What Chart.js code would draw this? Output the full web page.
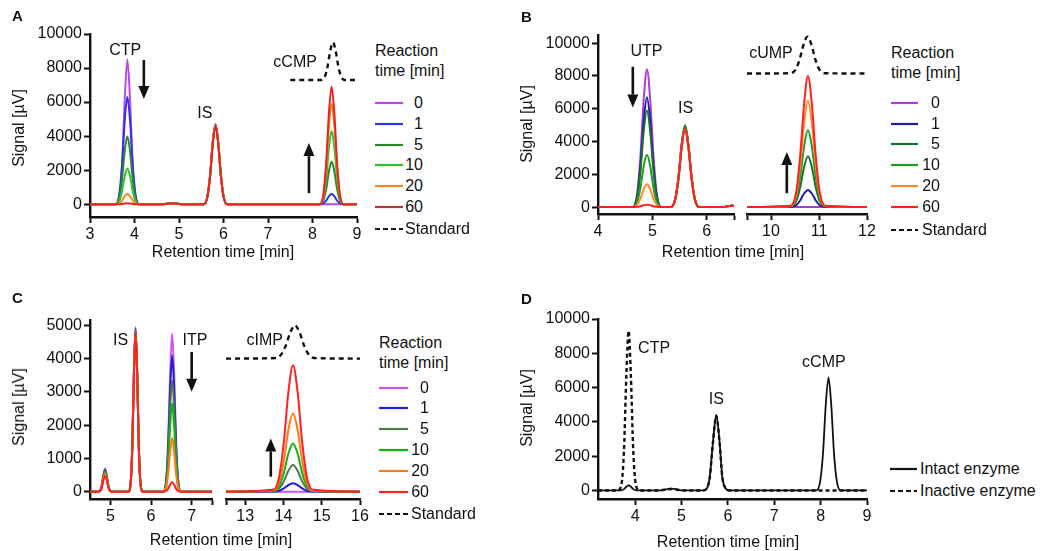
<!DOCTYPE html>
<html lang="en">
<head>
<meta charset="UTF-8">
<title>Nucleotide cyclase chromatograms</title>
<script src="https://cdn.jsdelivr.net/npm/chart.js"></script>
<style>
  body { margin: 0; background: #fff; }
  #fig { position: relative; width: 1050px; height: 551px; overflow: hidden;
         font-family: "Liberation Sans", Arial, sans-serif; color: #111; }
  #fig canvas { position: absolute; }
  .t { position: absolute; font-size: 16px; line-height: 1; white-space: nowrap; }
  .letter { font-weight: bold; font-size: 15px; }
</style>
</head>
<body>
<div id="fig"></div>
<script>
// ---- data (retention time [min], signal [uV]) ----
const reactionTimes = ['0', '1', '5', '10', '20', '60'];

// panel A - CTP -> cCMP
const aTime = [3.0, 3.58, 3.66, 3.72, 3.78, 3.84, 3.90, 3.96, 4.02, 4.10, 4.6, 4.85, 5.1,
  5.56, 5.64, 5.70, 5.76, 5.82, 5.88, 5.94, 6.00, 6.08, 7.0,
  8.17, 8.25, 8.31, 8.37, 8.43, 8.49, 8.55, 8.61, 8.69, 9.0];
const aMin0  = [0, 0, 350, 2200, 6100, 8500, 6100, 2200, 350, 0, 0, 60, 0, 0, 470, 1740, 3670, 4700, 3670, 1740, 470, 0, 0, 0, 0, 0, 0, 0, 0, 0, 0, 0, 0];
const aMin1  = [0, 0, 630, 2330, 4910, 6300, 4910, 2330, 630, 0, 0, 60, 0, 0, 470, 1740, 3670, 4700, 3670, 1740, 470, 0, 0, 0, 60, 220, 470, 600, 470, 220, 60, 0, 0];
const aMin5  = [0, 0, 400, 1480, 3120, 4000, 3120, 1480, 400, 0, 0, 60, 0, 0, 465, 1720, 3630, 4650, 3630, 1720, 465, 0, 0, 0, 250, 930, 1950, 2500, 1950, 930, 250, 0, 0];
const aMin10 = [0, 0, 210, 780, 1640, 2100, 1640, 780, 210, 0, 0, 60, 0, 0, 465, 1720, 3630, 4650, 3630, 1720, 465, 0, 0, 0, 430, 1590, 3350, 4300, 3350, 1590, 430, 0, 0];
const aMin20 = [0, 0, 60, 220, 470, 600, 470, 220, 60, 0, 0, 60, 0, 0, 465, 1720, 3630, 4650, 3630, 1720, 465, 0, 0, 0, 590, 2180, 4600, 5900, 4600, 2180, 590, 0, 0];
const aMin60 = [0, 0, 0, 20, 45, 60, 45, 20, 0, 0, 0, 60, 0, 0, 460, 1700, 3590, 4600, 3590, 1700, 460, 0, 0, 0, 690, 2550, 5380, 6900, 5380, 2550, 690, 0, 0];
const aStdTime = [7.5, 8.0, 8.20, 8.28, 8.34, 8.40, 8.46, 8.52, 8.58, 8.64, 8.72, 9.0];
const aStd = [7300, 7300, 7300, 7520, 8110, 9020, 9500, 9020, 8110, 7520, 7300, 7300];

// panel B - UTP -> cUMP (broken axis)
const bLeftTime = [4.0, 4.64, 4.72, 4.78, 4.84, 4.90, 4.96, 5.02, 5.08, 5.16,
  5.34, 5.42, 5.48, 5.54, 5.60, 5.66, 5.72, 5.78, 5.86, 6.30, 6.45, 6.5];
const bMin0  = [0, 0, 840, 3110, 6550, 8400, 6550, 3110, 840, 0, 0, 490, 1810, 3820, 4900, 3820, 1810, 490, 0, 0, 90, 70];
const bMin1  = [0, 0, 670, 2480, 5230, 6700, 5230, 2480, 670, 0, 0, 480, 1780, 3740, 4800, 3740, 1780, 480, 0, 0, 90, 70];
const bMin5  = [0, 0, 590, 2180, 4600, 5900, 4600, 2180, 590, 0, 0, 500, 1850, 3900, 5000, 3900, 1850, 500, 0, 0, 90, 70];
const bMin10 = [0, 0, 320, 1180, 2500, 3200, 2500, 1180, 320, 0, 0, 495, 1830, 3860, 4950, 3860, 1830, 495, 0, 0, 90, 70];
const bMin20 = [0, 0, 140, 520, 1090, 1400, 1090, 520, 140, 0, 0, 475, 1760, 3700, 4750, 3700, 1760, 475, 0, 0, 90, 70];
const bMin60 = [0, 0, 15, 55, 120, 150, 120, 55, 15, 0, 0, 475, 1760, 3700, 4750, 3700, 1760, 475, 0, 0, 90, 70];
const bRightTime = [9.5, 10.41, 10.53, 10.61, 10.69, 10.77, 10.85, 10.93, 11.01, 11.13, 12.0];
const bRight0  = [0, 0, 0, 0, 0, 0, 0, 0, 0, 0, 0];
const bRight1  = [0, 10, 130, 420, 830, 1050, 830, 420, 130, 10, 0];
const bRight5  = [0, 30, 390, 1240, 2450, 3100, 2450, 1240, 390, 30, 0];
const bRight10 = [0, 50, 590, 1880, 3710, 4700, 3710, 1880, 590, 50, 0];
const bRight20 = [0, 65, 820, 2600, 5140, 6500, 5140, 2600, 820, 65, 0];
const bRight60 = [0, 80, 1010, 3200, 6320, 8000, 6320, 3200, 1010, 80, 0];
const bStdTime = [9.5, 10.4, 10.52, 10.60, 10.68, 10.76, 10.84, 10.92, 11.0, 11.12, 12.0];
const bStd = [8150, 8170, 8430, 9050, 9930, 10400, 9930, 9050, 8430, 8170, 8150];

// panel C - ITP -> cIMP (broken axis)
const cLeftTime = [4.5, 4.69, 4.75, 4.79, 4.83, 4.87, 4.91, 4.95, 4.99, 5.05,
  5.44, 5.50, 5.54, 5.58, 5.62, 5.66, 5.70, 5.74, 5.80,
  6.30, 6.37, 6.42, 6.47, 6.52, 6.57, 6.62, 6.67, 6.74, 7.5];
const cMin0  = [0, 0, 40, 200, 510, 700, 510, 200, 40, 0, 0, 280, 1390, 3610, 4950, 3610, 1390, 280, 0, 0, 330, 1470, 3520, 4750, 3520, 1470, 330, 0, 0];
const cMin1  = [0, 0, 36, 180, 475, 650, 475, 180, 36, 0, 0, 275, 1370, 3580, 4900, 3580, 1370, 275, 0, 0, 290, 1270, 3030, 4100, 3030, 1270, 290, 0, 0];
const cMin5  = [0, 0, 35, 175, 450, 620, 450, 175, 35, 0, 0, 270, 1360, 3540, 4850, 3540, 1360, 270, 0, 0, 235, 1040, 2480, 3350, 2480, 1040, 235, 0, 0];
const cMin10 = [0, 0, 32, 160, 425, 580, 425, 160, 32, 0, 0, 270, 1360, 3540, 4850, 3540, 1360, 270, 0, 0, 185, 820, 1960, 2650, 1960, 820, 185, 0, 0];
const cMin20 = [0, 0, 30, 150, 395, 540, 395, 150, 30, 0, 0, 270, 1340, 3500, 4800, 3500, 1340, 270, 0, 0, 115, 500, 1200, 1620, 1200, 500, 115, 0, 0];
const cMin60 = [0, 0, 26, 130, 345, 470, 345, 130, 26, 0, 0, 270, 1340, 3500, 4800, 3500, 1340, 270, 0, 0, 20, 85, 210, 280, 210, 85, 20, 0, 0];
const cRightTime = [12.5, 13.75, 13.89, 14.01, 14.13, 14.25, 14.37, 14.49, 14.61, 14.75, 16.0];
const cRight0  = [0, 0, 0, 0, 0, 0, 0, 0, 0, 0, 0];
const cRight1  = [0, 4, 30, 100, 200, 250, 200, 100, 30, 4, 0];
const cRight5  = [0, 14, 96, 310, 630, 800, 630, 310, 96, 14, 0];
const cRight10 = [0, 25, 175, 565, 1150, 1450, 1150, 565, 175, 25, 0];
const cRight20 = [0, 40, 280, 920, 1860, 2350, 1860, 920, 280, 40, 0];
const cRight60 = [0, 65, 455, 1480, 3000, 3800, 3000, 1480, 455, 65, 0];
const cStdTime = [12.5, 13.8, 13.94, 14.06, 14.18, 14.30, 14.42, 14.54, 14.66, 14.8, 16.0];
const cStd = [4000, 4017, 4120, 4390, 4790, 5000, 4790, 4390, 4120, 4017, 4000];

// panel D - intact vs inactive enzyme
const dTime = [3.2, 3.62, 3.70, 3.76, 3.81, 3.86, 3.91, 3.96, 4.02, 4.10, 4.5, 4.78, 5.05,
  5.47, 5.55, 5.61, 5.68, 5.75, 5.82, 5.88, 5.95, 6.03, 7.7,
  7.91, 7.99, 8.05, 8.11, 8.17, 8.23, 8.29, 8.35, 8.43, 9.0];
const dIntact   = [0, 0, 10, 75, 215, 300, 215, 75, 10, 0, 0, 100, 0, 0, 130, 790, 2860, 4400, 2860, 790, 130, 0, 0, 0, 530, 2110, 4950, 6600, 4950, 2110, 530, 0, 0];
const dInactive = [0, 0, 280, 2330, 6600, 9300, 6600, 2330, 280, 0, 0, 80, 0, 0, 130, 780, 2830, 4350, 2830, 780, 130, 0, 0, 0, 0, 0, 0, 0, 0, 0, 0, 0, 0];

// tick labels
const yTicks10k = [0, 2000, 4000, 6000, 8000, 10000];
const yTicks5k = [0, 1000, 2000, 3000, 4000, 5000];
const aXTicks = [3, 4, 5, 6, 7, 8, 9];
const bLeftTicks = [4, 5, 6, 6.5], bLeftLabels = ['4', '5', '6', ''];
const bRightTicks = [9.5, 10, 11, 12], bRightLabels = ['', '10', '11', '12'];
const cLeftTicks = [5, 6, 7, 7.5], cLeftLabels = ['5', '6', '7', ''];
const cRightTicks = [12.5, 13, 14, 15, 16], cRightLabels = ['', '13', '14', '15', '16'];
const dXTicks = [4, 5, 6, 7, 8, 9];

const colorsA = ['#b848e8', '#2e2ef5', '#2c842c', '#30c030', '#f28a1e', '#ee2020'];
const colorsB = ['#a63ce0', '#1e1e9c', '#1f6f30', '#239b23', '#ff8a2e', '#ff2020'];
const colorsC = ['#cc55ee', '#1e1edc', '#4a7a4a', '#12b012', '#ff7a12', '#ff2020'];
const legendA = ['#c040f0', '#3030ff', '#2a8a2a', '#30c030', '#f08a20', '#b03838'];

// ---- drawing helpers ----
const fig = document.getElementById('fig');
const FONT = '"Liberation Sans", Arial, sans-serif';
const YW = 80, XH = 40, PT = 14, PR = 16, PL = 12;

const annotate = {
  id: 'annotate',
  afterDatasetsDraw(chart, args, opts) {
    const ctx = chart.ctx, x = chart.scales.x, y = chart.scales.y;
    ctx.save();
    ctx.fillStyle = '#111';
    ctx.strokeStyle = '#111';
    ctx.font = '16px ' + FONT;
    ctx.textAlign = 'center';
    ctx.textBaseline = 'middle';
    (opts.labels || []).forEach(l => {
      ctx.fillText(l.text, x.getPixelForValue(l.x), y.getPixelForValue(l.y));
    });
    (opts.arrows || []).forEach(a => {
      const px = x.getPixelForValue(a.x);
      const y1 = y.getPixelForValue(a.from), y2 = y.getPixelForValue(a.to);
      const dir = y2 > y1 ? 1 : -1, head = 13;
      ctx.lineWidth = 2.6;
      ctx.beginPath();
      ctx.moveTo(px, y1);
      ctx.lineTo(px, y2 - dir * head);
      ctx.stroke();
      ctx.beginPath();
      ctx.moveTo(px - 5.5, y2 - dir * head);
      ctx.lineTo(px + 5.5, y2 - dir * head);
      ctx.lineTo(px, y2);
      ctx.closePath();
      ctx.fill();
    });
    ctx.restore();
  }
};

function traces(times, series, colors) {
  return series.map((vals, i) => ({
    label: reactionTimes[i],
    data: times.map((t, k) => ({ x: t, y: vals[k] })),
    borderColor: colors[i],
    order: series.length - i
  }));
}

function standard(times, vals) {
  return {
    label: 'Standard',
    data: times.map((t, k) => ({ x: t, y: vals[k] })),
    borderColor: '#111', borderWidth: 2.4, borderDash: [5, 4], order: 0
  };
}

function axisStyle() {
  return {
    border: { display: true, color: '#111', width: 2.4 },
    grid: { display: true, drawOnChartArea: false, drawTicks: true, tickLength: 6, tickWidth: 2, tickColor: '#111' }
  };
}

function makeChart(area, cfg) {
  const hasY = !!cfg.yTicks;
  const cl = area.l - (hasY ? YW : PL);
  const ct = area.t - PT;
  const w = Math.round(area.r - cl + PR);
  const h = Math.round(area.b - ct + XH);
  const c = document.createElement('canvas');
  c.width = w; c.height = h;
  c.style.left = cl + 'px'; c.style.top = ct + 'px';
  c.style.width = w + 'px'; c.style.height = h + 'px';
  fig.appendChild(c);
  const xLabels = cfg.xLabels || cfg.xTicks.map(String);
  return new Chart(c, {
    type: 'line',
    data: { datasets: cfg.datasets },
    plugins: [annotate],
    options: {
      responsive: false, animation: false, devicePixelRatio: 1,
      layout: { padding: { left: hasY ? 0 : PL, top: PT, right: PR, bottom: 0 } },
      plugins: {
        legend: { display: false }, tooltip: { enabled: false },
        annotate: { labels: cfg.labels, arrows: cfg.arrows }
      },
      elements: {
        point: { radius: 0 },
        line: { borderWidth: 2, cubicInterpolationMode: 'monotone', fill: false }
      },
      scales: {
        x: Object.assign(axisStyle(), {
          type: 'linear', min: cfg.xMin, max: cfg.xMax,
          afterFit: s => { s.height = XH; },
          afterBuildTicks: s => { s.ticks = cfg.xTicks.map(v => ({ value: v })); },
          ticks: {
            autoSkip: false, maxRotation: 0, padding: 2, color: '#111',
            font: { size: 16, family: FONT },
            callback: (v, i) => xLabels[i]
          }
        }),
        y: Object.assign(axisStyle(), {
          display: hasY, min: cfg.yMin, max: cfg.yMax,
          afterFit: s => { s.width = hasY ? YW : 0; },
          afterBuildTicks: s => { if (hasY) s.ticks = cfg.yTicks.map(v => ({ value: v })); },
          ticks: { padding: 2, color: '#111', font: { size: 16, family: FONT }, callback: v => String(v) }
        })
      }
    }
  });
}

function text(str, x, y, cls, align) {
  const d = document.createElement('div');
  d.className = 't ' + (cls || '');
  d.textContent = str;
  d.style.left = x + 'px';
  d.style.top = y + 'px';
  const tx = align === 'left' ? '0' : align === 'right' ? '-100%' : '-50%';
  d.style.transform = 'translate(' + tx + ',-50%)';
  fig.appendChild(d);
}

function rotText(str, cx, cy) {
  const d = document.createElement('div');
  d.className = 't';
  d.textContent = str;
  d.style.left = cx + 'px';
  d.style.top = cy + 'px';
  d.style.transform = 'translate(-50%,-50%) rotate(-90deg)';
  fig.appendChild(d);
}

function legendLine(x1, x2, y, color, dashed) {
  const ns = 'http://www.w3.org/2000/svg';
  const s = document.createElementNS(ns, 'svg');
  s.setAttribute('width', x2 - x1 + 2);
  s.setAttribute('height', 6);
  s.style.position = 'absolute';
  s.style.left = (x1 - 1) + 'px';
  s.style.top = (y - 3) + 'px';
  const l = document.createElementNS(ns, 'line');
  l.setAttribute('x1', 1); l.setAttribute('x2', x2 - x1 + 1);
  l.setAttribute('y1', 3); l.setAttribute('y2', 3);
  l.setAttribute('stroke', color);
  l.setAttribute('stroke-width', 2.2);
  if (dashed) l.setAttribute('stroke-dasharray', '5 3');
  s.appendChild(l);
  fig.appendChild(s);
}

function reactionLegend(x1, x2, labelRight, stdLeft, titleY, rowYs, stdY, colors) {
  text('Reaction', x1, titleY, '', 'left');
  text('time [min]', x1, titleY + 20, '', 'left');
  reactionTimes.forEach((r, i) => {
    legendLine(x1, x2, rowYs[i], colors[i]);
    text(r, labelRight, rowYs[i], '', 'right');
  });
  legendLine(x1, x2, stdY, '#111', true);
  text('Standard', stdLeft, stdY, '', 'left');
}

// ---- panel A ----
makeChart({ l: 90, r: 357, t: 34, b: 217 }, {
  xMin: 3, xMax: 9, xTicks: aXTicks, yMin: -750, yMax: 10000, yTicks: yTicks10k,
  datasets: traces(aTime, [aMin0, aMin1, aMin5, aMin10, aMin20, aMin60], colorsA).concat([standard(aStdTime, aStd)]),
  labels: [{ text: 'CTP', x: 3.79, y: 9000 }, { text: 'IS', x: 5.58, y: 5350 }, { text: 'cCMP', x: 7.61, y: 8300 }],
  arrows: [{ x: 4.21, from: 8470, to: 6180 }, { x: 7.92, from: 650, to: 3590 }]
});
text('A', 12, 15, 'letter', 'left');
rotText('Signal [\u00b5V]', 19, 128);
text('Retention time [min]', 223, 252);
reactionLegend(375, 403, 423, 405, 51, [103, 124, 145, 165, 186, 207], 229, legendA);

// ---- panel B ----
makeChart({ l: 598, r: 734, t: 35, b: 213.5 }, {
  xMin: 4, xMax: 6.5, xTicks: bLeftTicks, xLabels: bLeftLabels, yMin: -420, yMax: 10500, yTicks: yTicks10k,
  datasets: traces(bLeftTime, [bMin0, bMin1, bMin5, bMin10, bMin20, bMin60], colorsB),
  labels: [{ text: 'UTP', x: 4.89, y: 9480 }, { text: 'IS', x: 5.61, y: 6020 }],
  arrows: [{ x: 4.64, from: 8560, to: 6080 }]
});
makeChart({ l: 747, r: 867, t: 35, b: 213.5 }, {
  xMin: 9.5, xMax: 12, xTicks: bRightTicks, xLabels: bRightLabels, yMin: -420, yMax: 10500,
  datasets: traces(bRightTime, [bRight0, bRight1, bRight5, bRight10, bRight20, bRight60], colorsB).concat([standard(bStdTime, bStd)]),
  labels: [{ text: 'cUMP', x: 10.0, y: 9380 }],
  arrows: [{ x: 10.33, from: 850, to: 3360 }]
});
text('B', 521, 16, 'letter', 'left');
rotText('Signal [\u00b5V]', 527, 124);
text('Retention time [min]', 733, 252);
reactionLegend(891, 918, 940, 922, 53, [103, 124, 144, 165, 186, 207], 230, colorsB);

// ---- panel C ----
makeChart({ l: 90, r: 212, t: 320, b: 499 }, {
  xMin: 4.5, xMax: 7.5, xTicks: cLeftTicks, xLabels: cLeftLabels, yMin: -220, yMax: 5160, yTicks: yTicks5k,
  datasets: traces(cLeftTime, [cMin0, cMin1, cMin5, cMin10, cMin20, cMin60], colorsC),
  labels: [{ text: 'IS', x: 5.25, y: 4555 }, { text: 'ITP', x: 7.08, y: 4555 }],
  arrows: [{ x: 7.0, from: 4200, to: 3000 }]
});
makeChart({ l: 226, r: 360, t: 320, b: 499 }, {
  xMin: 12.5, xMax: 16, xTicks: cRightTicks, xLabels: cRightLabels, yMin: -220, yMax: 5160,
  datasets: traces(cRightTime, [cRight0, cRight1, cRight5, cRight10, cRight20, cRight60], colorsC).concat([standard(cStdTime, cStd)]),
  labels: [{ text: 'cIMP', x: 13.51, y: 4555 }],
  arrows: [{ x: 13.67, from: 450, to: 1600 }]
});
text('C', 12, 297, 'letter', 'left');
rotText('Signal [\u00b5V]', 19, 407);
text('Retention time [min]', 221, 540);
reactionLegend(379, 408, 429, 411, 343, [388, 408, 429, 450, 471, 492], 514, colorsC);

// ---- panel D ----
makeChart({ l: 598, r: 867, t: 319, b: 499 }, {
  xMin: 3.2, xMax: 9, xTicks: dXTicks, yMin: -500, yMax: 10000, yTicks: yTicks10k,
  datasets: [
    { label: 'Intact enzyme', data: dTime.map((t, k) => ({ x: t, y: dIntact[k] })), borderColor: '#111', borderWidth: 1.8, order: 1 },
    { label: 'Inactive enzyme', data: dTime.map((t, k) => ({ x: t, y: dInactive[k] })), borderColor: '#111', borderWidth: 2.4, borderDash: [4, 3], order: 0 }
  ],
  labels: [{ text: 'CTP', x: 4.41, y: 8280 }, { text: 'IS', x: 5.75, y: 5306 }, { text: 'cCMP', x: 8.07, y: 7440 }]
});
text('D', 521, 298, 'letter', 'left');
rotText('Signal [\u00b5V]', 527, 408);
text('Retention time [min]', 728, 542);
legendLine(890, 917, 469, '#111');
text('Intact enzyme', 920, 469, '', 'left');
legendLine(890, 917, 491, '#111', true);
text('Inactive enzyme', 920, 491, '', 'left');
</script>
</body>
</html>
